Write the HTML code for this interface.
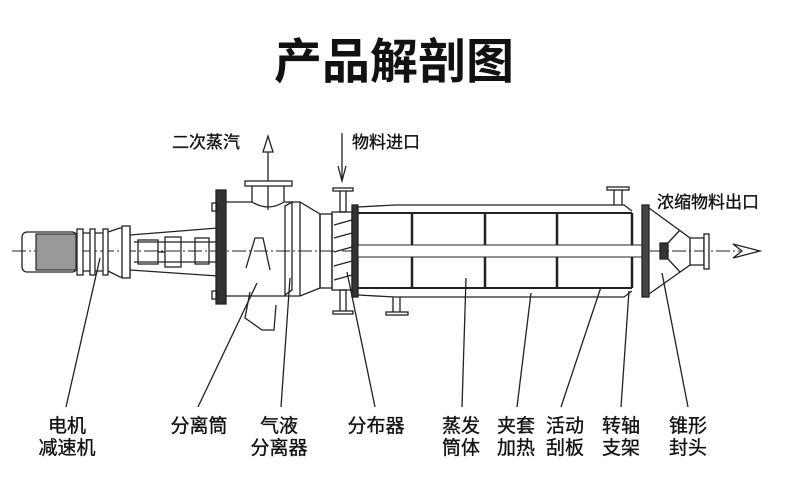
<!DOCTYPE html>
<html><head><meta charset="utf-8"><style>
body{margin:0;background:#fff}
svg{display:block}
text{font-family:"Liberation Sans","Noto Sans CJK SC",sans-serif;fill:#111}
.lb text{stroke:#111;stroke-width:0.35}
</style></head><body>
<svg width="790" height="491" viewBox="0 0 790 491" xmlns="http://www.w3.org/2000/svg">
<rect width="790" height="491" fill="#fff"/>
<text x="394" y="78" font-size="48" font-weight="bold" text-anchor="middle" style="font-family:'Noto Sans CJK SC',sans-serif">产品解剖图</text>
<g class="lb">
<g font-size="17">
<text x="172" y="148">二次蒸汽</text>
<text x="352" y="148">物料进口</text>
<text x="657" y="208">浓缩物料出口</text>
</g>
<g font-size="19" text-anchor="middle">
<text x="67" y="432">电机</text><text x="67" y="454">减速机</text>
<text x="199" y="432">分离筒</text>
<text x="279" y="432">气液</text><text x="279" y="454">分离器</text>
<text x="376" y="432">分布器</text>
<text x="461" y="432">蒸发</text><text x="461" y="454">筒体</text>
<text x="516" y="432">夹套</text><text x="516" y="454">加热</text>
<text x="565" y="432">活动</text><text x="565" y="454">刮板</text>
<text x="621" y="432">转轴</text><text x="621" y="454">支架</text>
<text x="688" y="432">锥形</text><text x="688" y="454">封头</text>
</g>
</g>
<g stroke="#222" stroke-width="1.3" fill="none">
<line x1="66" y1="407" x2="100" y2="258"/>
<line x1="198" y1="407" x2="257" y2="283"/>
<line x1="281" y1="407" x2="290" y2="278"/>
<line x1="375" y1="407" x2="347" y2="272"/>
<line x1="462" y1="407" x2="466" y2="278"/>
<line x1="517" y1="407" x2="531" y2="293"/>
<line x1="561" y1="407" x2="601" y2="287"/>
<line x1="621" y1="407" x2="629" y2="291"/>
<line x1="688" y1="407" x2="662" y2="273"/>
<line x1="12" y1="251" x2="740" y2="251" stroke-width="1" stroke-dasharray="14 3 2 3"/>
<line x1="268" y1="138" x2="268" y2="210"/>
<path d="M263 152 L268 136 L273 152 Z" fill="#fff"/>
<line x1="342" y1="133" x2="342" y2="180"/>
<path d="M338 166 L342 181 L346 166"/>
<path d="M733 244 L760 251 L733 258 L742 251 Z" fill="#fff"/>
<rect x="22" y="232" width="55" height="40" rx="5"/>
<rect x="36" y="234" width="40" height="36" fill="#999" stroke="#333"/>
<g fill="#fff">
<rect x="77" y="229" width="6" height="46"/><rect x="90" y="229" width="5" height="46"/><rect x="103" y="229" width="5" height="46"/>
</g>
<path d="M83 233 H90 M95 233 H103 M83 271 H90 M95 271 H103"/>
<path d="M108 232 L120 228 L130 228 L130 277 L120 277 L108 271"/>
<rect x="122" y="226" width="8" height="52" fill="#fff"/>
<path d="M130 235 L218 228 M130 270 L218 276 M134 242 L218 242 M134 262 L218 262"/>
<rect x="138" y="240" width="20" height="24"/>
<rect x="165" y="237" width="16" height="30"/>
<rect x="195" y="238" width="14" height="26"/>
<line x1="158" y1="252" x2="165" y2="252"/>
<rect x="216" y="190" width="10" height="114" fill="#333"/>
<rect x="212" y="203" width="5" height="8"/><rect x="212" y="291" width="5" height="8"/>
<path d="M226 202 H252 Q268 212 284 202 H300 L320 214 V288 L300 296 H226"/>
<line x1="300" y1="202" x2="300" y2="296"/>
<path d="M252 202 V186 M284 202 V186"/>
<rect x="245" y="181" width="47" height="5" fill="#fff"/>
<path d="M285 206 L292 202 V290 L285 295 Z"/>
<path d="M250 292 L245 318 L262 330 L274 330 L276 305" />
<path d="M246 268 L255 238 L263 238 L270 270"/>
<rect x="320" y="214" width="12" height="74"/>
<rect x="332" y="212" width="20" height="78"/>
<path d="M334 225 L352 220 M334 238 L352 233 M334 252 L352 247 M334 266 L352 261 M334 280 L352 275"/>
<rect x="340" y="190" width="6" height="22"/><rect x="333" y="188" width="20" height="3" fill="#fff"/>
<rect x="340" y="290" width="6" height="22"/><rect x="333" y="311" width="20" height="3" fill="#fff"/>
<rect x="352" y="205" width="6" height="92" fill="#333"/>
<path d="M358 213 H632 M358 288 H632" stroke-width="2"/>
<path d="M358 207 L395 205 H624 L632 211 M358 295 L395 297 H624 L632 291"/>
<rect x="358" y="245" width="290" height="12" fill="#fff" stroke-width="1"/>
<g stroke-width="2.5">
<line x1="412" y1="213" x2="412" y2="245"/><line x1="412" y1="257" x2="412" y2="288"/>
<line x1="485" y1="213" x2="485" y2="245"/><line x1="485" y1="257" x2="485" y2="288"/>
<line x1="557" y1="213" x2="557" y2="245"/><line x1="557" y1="257" x2="557" y2="288"/>
<line x1="632" y1="213" x2="632" y2="245"/><line x1="632" y1="257" x2="632" y2="288"/>
</g>
<path d="M614 205 V190 M622 205 V190"/><rect x="607" y="187" width="22" height="3" fill="#fff"/>
<path d="M393 297 V312 M400 297 V312"/><rect x="386" y="312" width="22" height="3" fill="#fff"/>
<rect x="642" y="205" width="7" height="92" fill="#444"/>
<path d="M649 208 L690 238 V265 L649 294"/>
<path d="M690 238 H704 V265 H690"/>
<rect x="704" y="234" width="5" height="35" fill="#fff"/>
<rect x="660" y="243" width="8" height="16" fill="#333"/>
<path d="M668 243 L680 230 M668 259 L680 272"/>
</g>
</svg>
</body></html>
